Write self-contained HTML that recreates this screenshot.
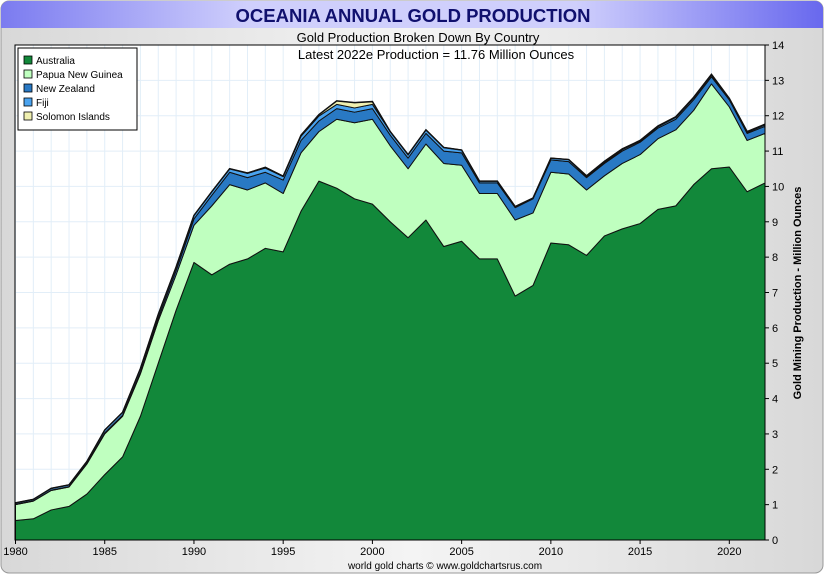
<!DOCTYPE html>
<html><head><meta charset="utf-8"><style>
body{margin:0;width:825px;height:575px;overflow:hidden;background:#fff;font-family:"Liberation Sans",sans-serif}
</style></head><body>
<svg width="825" height="575" xmlns="http://www.w3.org/2000/svg">
<defs>
<linearGradient id="bg" x1="0" y1="0" x2="1" y2="0"><stop offset="0" stop-color="#d8d8d8"/><stop offset="0.5" stop-color="#f4f4f4"/><stop offset="1" stop-color="#d8d8d8"/></linearGradient>
<linearGradient id="tb" x1="0" y1="0" x2="1" y2="0"><stop offset="0" stop-color="#7b7bf0"/><stop offset="0.3" stop-color="#cfcffc"/><stop offset="0.7" stop-color="#cfcffc"/><stop offset="1" stop-color="#6868ee"/></linearGradient>
</defs>
<rect x="1" y="1" width="822" height="572" rx="8" fill="url(#bg)" stroke="#999"/>
<path d="M1,28 V9 a8,8 0 0 1 8,-8 H815 a8,8 0 0 1 8,8 V28 Z" fill="url(#tb)"/>
<text x="413" y="22" text-anchor="middle" font-size="18.5" font-weight="bold" fill="#10106e">OCEANIA ANNUAL GOLD PRODUCTION</text>
<text x="418" y="42" text-anchor="middle" font-size="13" fill="#000">Gold Production Broken Down By Country</text>
<rect x="15" y="45" width="750" height="495" fill="#fff"/>
<g id="grid"></g>
<g id="areas"></g>
<rect x="15" y="45" width="750" height="495" fill="none" stroke="#000"/>
<text x="436" y="59" text-anchor="middle" font-size="13">Latest 2022e Production = 11.76 Million Ounces</text>
<g id="yaxis"></g>
<g id="xaxis"></g>
<text transform="translate(801,293) rotate(-90)" text-anchor="middle" font-size="11" font-weight="bold">Gold Mining Production - Million Ounces</text>
<text x="445" y="569" text-anchor="middle" font-size="10">world gold charts © www.goldchartsrus.com</text>
<g>
<rect x="18" y="48" width="119" height="82" fill="#fff" stroke="#000"/>
<g id="legend"></g>
</g>
</svg>
<script>
const years=[];for(let y=1980;y<=2022;y++)years.push(y);
const australia=[0.55,0.6,0.85,0.95,1.3,1.85,2.35,3.5,5.0,6.5,7.85,7.5,7.8,7.95,8.25,8.15,9.3,10.15,9.95,9.65,9.5,9.0,8.55,9.05,8.3,8.45,7.95,7.95,6.9,7.2,8.4,8.35,8.05,8.6,8.8,8.95,9.35,9.45,10.05,10.5,10.55,9.85,10.1];
const png=[0.45,0.5,0.55,0.55,0.85,1.15,1.15,1.2,1.2,1.0,1.05,1.95,2.25,1.95,1.85,1.65,1.65,1.4,1.95,2.15,2.4,2.15,1.95,2.15,2.35,2.15,1.85,1.85,2.15,2.05,2.0,2.0,1.85,1.7,1.85,1.95,2.0,2.15,2.1,2.4,1.7,1.45,1.4];
const newZealand=[0.01,0.01,0.01,0.01,0.02,0.03,0.03,0.05,0.08,0.12,0.18,0.3,0.35,0.35,0.3,0.38,0.35,0.3,0.3,0.3,0.3,0.3,0.3,0.3,0.35,0.35,0.3,0.3,0.35,0.4,0.35,0.35,0.35,0.35,0.35,0.35,0.3,0.3,0.3,0.2,0.2,0.2,0.2];
const fiji=[0.04,0.04,0.05,0.05,0.05,0.08,0.08,0.1,0.1,0.1,0.1,0.1,0.1,0.12,0.12,0.1,0.12,0.14,0.12,0.12,0.12,0.1,0.1,0.1,0.1,0.08,0.05,0.05,0.03,0.02,0.05,0.06,0.03,0.03,0.04,0.03,0.04,0.05,0.05,0.05,0.03,0.03,0.04];
const solomon=[0,0,0,0,0,0,0,0,0,0,0,0,0,0.01,0.02,0.01,0.03,0.04,0.1,0.15,0.08,0,0,0,0,0,0,0,0,0,0,0,0.02,0.03,0.02,0.02,0.02,0.02,0.02,0.02,0.01,0.02,0.02];
const seriesNames=["Australia","Papua New Guinea","New Zealand","Fiji","Solomon Islands"];
const seriesColors=["#12883a","#bfffbf","#2979c4","#4aa3ef","#f0f0b0"];
const yTicks=[0,1,2,3,4,5,6,7,8,9,10,11,12,13,14];
const xTicks=[1980,1985,1990,1995,2000,2005,2010,2015,2020];
const NS="http://www.w3.org/2000/svg";
const X0=15.5,X1=765,Y0=540,Y1=45;
const xs=y=>X0+(y-1980)*(X1-X0)/(2022-1980);
const ys=v=>Y0-v*(Y0-Y1)/14;
function mk(t,a){const e=document.createElementNS(NS,t);for(const k in a)e.setAttribute(k,a[k]);return e;}
const grid=document.getElementById('grid');
for(const yr of years){const l=mk('line',{x1:xs(yr),x2:xs(yr),y1:Y1,y2:Y0,stroke:'#e2eef8'});

grid.appendChild(l);}
for(const t of yTicks){const l=mk('line',{x1:X0,x2:X1,y1:ys(t),y2:ys(t),stroke:'#e2eef8'});

grid.appendChild(l);}
const series=[australia,png,newZealand,fiji,solomon];
const areas=document.getElementById('areas');
let base=years.map(()=>0);
series.forEach((s,i)=>{
  const top=base.map((b,j)=>b+s[j]);
  let d='M'+years.map((y,j)=>xs(y)+','+ys(top[j])).join(' L');
  for(let j=years.length-1;j>=0;j--)d+=' L'+xs(years[j])+','+ys(base[j]);
  d+='Z';
  const p=mk('path',{d:d,fill:seriesColors[i],stroke:'#111','stroke-width':1,'stroke-linejoin':'round'});
  
  
  areas.appendChild(p);base=top;
});
const tl=mk('polyline',{points:years.map((y,j)=>xs(y)+','+ys(base[j])).join(' '),fill:'none',stroke:'#111','stroke-width':1.5});


areas.appendChild(tl);
const ya=document.getElementById('yaxis');
for(const t of yTicks){const l=mk('line',{x1:X1,x2:X1+4,y1:ys(t),y2:ys(t),stroke:'#000'});ya.appendChild(l);
const tx=mk('text',{x:X1+7,y:ys(t)+4,'font-size':11});tx.textContent=t;

ya.appendChild(tx);}
const xa=document.getElementById('xaxis');
for(const t of xTicks){const l=mk('line',{x1:xs(t),x2:xs(t),y1:Y0,y2:Y0+4,stroke:'#000'});xa.appendChild(l);
const tx=mk('text',{x:xs(t),y:Y0+15,'font-size':11,'text-anchor':'middle'});tx.textContent=t;

xa.appendChild(tx);}
const lg=document.getElementById('legend');
seriesNames.forEach((n,i)=>{const y=56+i*14;
const r=mk('rect',{x:24,y:y,width:8,height:8,fill:seriesColors[i],stroke:'#000','stroke-width':0.8});

lg.appendChild(r);
const tx=mk('text',{x:36,y:y+8,'font-size':10});tx.textContent=n;

lg.appendChild(tx);});
</script>
</body></html>
